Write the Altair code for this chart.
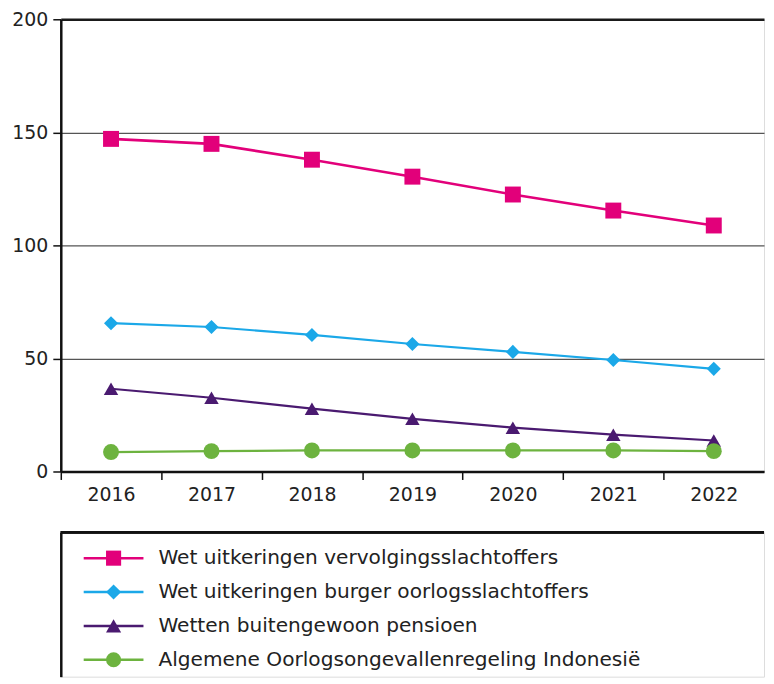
import altair as alt
import pandas as pd

years = ["2016", "2017", "2018", "2019", "2020", "2021", "2022"]
series = [
    "Wet uitkeringen vervolgingsslachtoffers",
    "Wet uitkeringen burger oorlogsslachtoffers",
    "Wetten buitengewoon pensioen",
    "Algemene Oorlogsongevallenregeling Indonesië",
]
wuv = [147.1, 144.9, 137.9, 130.4, 122.5, 115.4, 108.8]
wubo = [65.6, 63.9, 60.4, 56.4, 52.9, 49.3, 45.4]
wbp = [36.6, 32.6, 27.8, 23.3, 19.4, 16.3, 13.7]
aor = [8.6, 9.0, 9.3, 9.3, 9.3, 9.3, 9.0]
values = [wuv, wubo, wbp, aor]
y_ticks = [0, 50, 100, 150, 200]

colors = ["#E2007A", "#1BA8E8", "#4A1A70", "#6DB33F"]
shapes = ["square", "diamond", "triangle-up", "circle"]
sizes = [256, 200, 210, 256]
widths = [2.6, 2.2, 2.2, 2.2]

FONT = "DejaVu Sans"
TXT = "#222222"
W = 706
H = 454
step = W / len(years)

rows = []
for s, vals in zip(series, values):
    for y, v in zip(years, vals):
        rows.append({"series": s, "year": y, "value": v})
df = pd.DataFrame(rows)

X = alt.X(
    "year:O",
    scale=alt.Scale(type="point", padding=0.5, domain=years),
    axis=alt.Axis(
        title=None, labelAngle=0, tickOffset=-step / 2, labelOffset=step / 2,
        domainColor="#111111", domainWidth=2.5, tickColor="#111111", tickWidth=1.5,
        tickSize=8, labelFontSize=19, labelFont=FONT, labelColor=TXT, labelPadding=6,
        grid=False,
    ),
)
Y = alt.Y(
    "value:Q",
    scale=alt.Scale(domain=[0, 200], nice=False),
    axis=alt.Axis(
        title=None, values=y_ticks, domainColor="#111111", domainWidth=2.5,
        tickColor="#111111", tickWidth=1.5, tickSize=8, labelFontSize=19,
        labelFont=FONT, labelColor=TXT, labelPadding=5,
        grid=True,
        gridColor={"condition": {"test": "datum.value == 200", "value": "#1a1a1a"}, "value": "#555555"},
        gridWidth={"condition": {"test": "datum.value == 200", "value": 2.5}, "value": 1.2},
    ),
)

layers = []
for s, c, sh, sz, w in zip(series, colors, shapes, sizes, widths):
    sub = df[df["series"] == s]
    layers.append(alt.Chart(sub).mark_line(color=c, strokeWidth=w).encode(x=X, y=Y))
    layers.append(
        alt.Chart(sub).mark_point(color=c, shape=sh, size=sz, filled=True, opacity=1)
        .encode(x=X, y=Y)
    )

main = alt.layer(*layers).properties(width=W, height=H)

# Legend panel
leg_df = pd.DataFrame({"series": series, "row": list(range(len(series)))})
LH = 145
LY = alt.Y(
    "row:Q",
    scale=alt.Scale(domain=[-0.765, LH / 34 - 0.765], reverse=True, nice=False, zero=False),
    axis=alt.Axis(title=None, labels=False, ticks=False, grid=False,
                  domainColor="#111111", domainWidth=2.5),
)
cscale = alt.Scale(domain=series, range=colors)
sscale = alt.Scale(domain=series, range=shapes)
leg_layers = [
    alt.Chart(leg_df).mark_rule(strokeWidth=2.5, color="#111111").encode(
        x=alt.value(0), x2=alt.value(W), y=alt.value(0)
    ),
    alt.Chart(leg_df).mark_rule(strokeWidth=2.5).encode(
        x=alt.value(23), x2=alt.value(83), y=LY,
        color=alt.Color("series:N", scale=cscale, legend=None),
    ),
    alt.Chart(leg_df).mark_point(filled=True, opacity=1, size=230).encode(
        x=alt.value(53), y=LY,
        color=alt.Color("series:N", scale=cscale, legend=None),
        shape=alt.Shape("series:N", scale=sscale, legend=None),
    ),
    alt.Chart(leg_df).mark_text(align="left", baseline="middle", fontSize=20.2,
                                font=FONT, color=TXT).encode(
        x=alt.value(98), y=LY, text="series:N"
    ),
]
legend = alt.layer(*leg_layers).properties(width=W, height=LH)

chart = (
    alt.vconcat(main, legend, spacing=25)
    .properties(padding={"left": 3, "top": 0, "right": 0, "bottom": 0})
    .configure_view(stroke=None)
    .configure(font=FONT)
)

chart.save("out.html", embed_options={"renderer": "svg", "actions": False})
